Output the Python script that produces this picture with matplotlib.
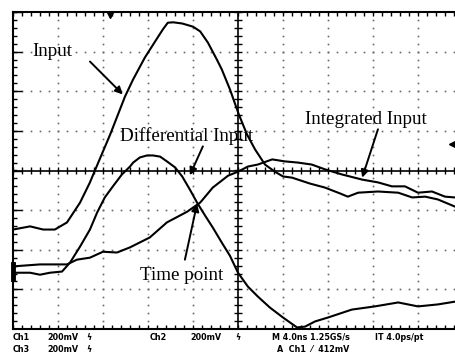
import numpy as np
import matplotlib.pyplot as plt

# Scope screen in divisions: x 0..10 (4 ns/div), y -4..4 (200 mV/div)
input_x = [0, 0.38, 0.67, 0.93, 1.2, 1.49, 1.71, 1.82, 2.16, 2.49, 2.67, 2.93, 3.16,
           3.33, 3.44, 3.56, 3.76, 4.0, 4.16, 4.33, 4.53, 4.64, 4.82, 5.02, 5.2,
           5.38, 5.6, 5.82, 6.0, 6.2, 6.6, 6.93, 7.27, 7.44, 7.67, 8.11, 8.56,
           8.87, 9.16, 9.44, 9.82]
input_y = [-1.49, -1.41, -1.49, -1.49, -1.31, -0.81, -0.30, 0.0, 0.91, 1.87, 2.30,
           2.85, 3.26, 3.56, 3.73, 3.74, 3.71, 3.63, 3.51, 3.23, 2.80, 2.55, 2.05,
           1.41, 0.91, 0.53, 0.15, -0.03, -0.15, -0.18, -0.33, -0.43, -0.58,
           -0.66, -0.56, -0.53, -0.56, -0.68, -0.66, -0.73, -0.91]

diff_x = [0, 0.38, 0.6, 0.82, 1.09, 1.27, 1.49, 1.71, 1.87, 2.04, 2.22, 2.42, 2.6,
          2.67, 2.82, 2.98, 3.11, 3.27, 3.42, 3.6, 3.76, 3.93, 4.09, 4.27, 4.44,
          4.64, 4.82, 5.0, 5.22, 5.44, 5.71, 6.0, 6.31, 6.49, 6.71, 7.0, 7.53,
          8.04, 8.56, 9.0, 9.44, 9.82]
diff_y = [-2.58, -2.58, -2.63, -2.58, -2.55, -2.32, -1.92, -1.49, -1.06, -0.68,
          -0.40, -0.10, 0.10, 0.20, 0.33, 0.38, 0.38, 0.35, 0.23, 0.08, -0.15,
          -0.48, -0.81, -1.14, -1.44, -1.82, -2.15, -2.58, -2.93, -3.18, -3.46,
          -3.71, -3.96, -3.94, -3.81, -3.71, -3.51, -3.43, -3.33, -3.43, -3.38,
          -3.31]

integ_x = [0, 0.6, 1.2, 1.42, 1.71, 2.0, 2.31, 2.6, 3.04, 3.42, 3.87, 4.16, 4.44,
           4.78, 5.0, 5.22, 5.44, 5.76, 6.04, 6.33, 6.64, 6.93, 7.31, 7.76, 8.11,
           8.42, 8.71, 9.0, 9.31, 9.6, 9.82]
integ_y = [-2.42, -2.37, -2.37, -2.25, -2.2, -2.05, -2.07, -1.94, -1.69, -1.31,
           -1.04, -0.81, -0.43, -0.13, -0.03, 0.10, 0.15, 0.28, 0.23, 0.20, 0.15,
           0.03, -0.10, -0.23, -0.30, -0.40, -0.40, -0.56, -0.53, -0.66, -0.68]

# label text, text position, arrow tail, arrow head
labels = [
    ("Input", (0.44, 3.0), (1.71, 2.75), (2.44, 1.92)),
    ("Differential Input", (2.38, 0.86), (4.22, 0.61), (3.93, -0.12)),
    ("Integrated Input", (6.49, 1.29), (8.11, 1.04), (7.76, -0.18)),
    ("Time point", (2.82, -2.65), (3.82, -2.25), (4.09, -0.84)),
]

status_row1 = [(13, "Ch1"), (47, "200mV"), (86, "ϟ"), (150, "Ch2"), (190, "200mV"),
               (235, "ϟ"), (272, "M 4.0ns 1.25GS/s"), (375, "IT 4.0ps/pt")]
status_row2 = [(13, "Ch3"), (47, "200mV"), (86, "ϟ"), (277, "A  Ch1  ⁄  412mV")]

W, H = 455, 354
fig = plt.figure(figsize=(W / 100, H / 100), dpi=100)
x0, x1, ytop, ybot = 13, 455, 12, 329
ax = fig.add_axes([x0 / W, (H - ybot) / H, (x1 - x0) / W, (ybot - ytop) / H])
xmax = (x1 - x0) / 45.0
ax.set_xlim(0, xmax)
ax.set_ylim(-4, 4)
ax.set_xticks([])
ax.set_yticks([])
for side in ["left", "top", "bottom"]:
    ax.spines[side].set_linewidth(1.5)
ax.spines["right"].set_visible(False)

# dotted graticule
minor_x = np.arange(0, xmax, 0.2)
minor_y = np.arange(-4, 4.01, 0.2)
for gx in [1, 2, 3, 4, 6, 7, 8, 9]:
    ax.plot(np.full_like(minor_y, gx), minor_y, ls="none", marker="s", ms=1.2,
            mec="none", color="0.4")
for gy in [-3, -2, -1, 1, 2, 3]:
    ax.plot(minor_x, np.full_like(minor_x, gy), ls="none", marker="s", ms=1.2,
            mec="none", color="0.4")

# centre axes with tick marks
ax.axhline(0, color="k", lw=1.2)
ax.axvline(5, color="k", lw=1.2)
ax.vlines(minor_x, -0.1, 0.1, color="k", lw=1.0)
ax.hlines(minor_y, 5 - 0.09, 5 + 0.09, color="k", lw=1.0)
# border ticks
ax.vlines(minor_x, 4 - 0.1, 4, color="k", lw=1.0)
ax.vlines(minor_x, -4, -4 + 0.1, color="k", lw=1.0)
ax.hlines(minor_y, 0, 0.09, color="k", lw=1.0)
ax.hlines(np.arange(-4, 5, 1), 0, 0.2, color="k", lw=1.0)

# traces
for xs, ys in [(input_x, input_y), (diff_x, diff_y), (integ_x, integ_y)]:
    ax.plot(xs, ys, color="k", lw=1.5, solid_joinstyle="round")

# scope markers
ax.plot([2.16], [3.92], marker="v", ms=5, color="k", clip_on=False)
ax.plot([9.75], [0.66], marker="<", ms=4, color="k", clip_on=False)
ax.plot([0.0, 0.0], [-2.35, -2.75], color="k", lw=3.5, clip_on=False)

for text, pos, tail, head in labels:
    ax.text(pos[0], pos[1], text, family="Liberation Serif", fontsize=13.7,
            ha="left", va="center")
    ax.annotate("", xy=head, xytext=tail,
                arrowprops=dict(arrowstyle="-|>", color="k", lw=1.4,
                                mutation_scale=11, shrinkA=0, shrinkB=0))

for px, s in status_row1:
    fig.text(px / W, 1 - 337 / H, s, fontsize=5.8, va="center", ha="left",
             fontweight="bold")
for px, s in status_row2:
    fig.text(px / W, 1 - 349 / H, s, fontsize=5.8, va="center", ha="left",
             fontweight="bold")

fig.savefig("out.png", dpi=100, facecolor="white")
